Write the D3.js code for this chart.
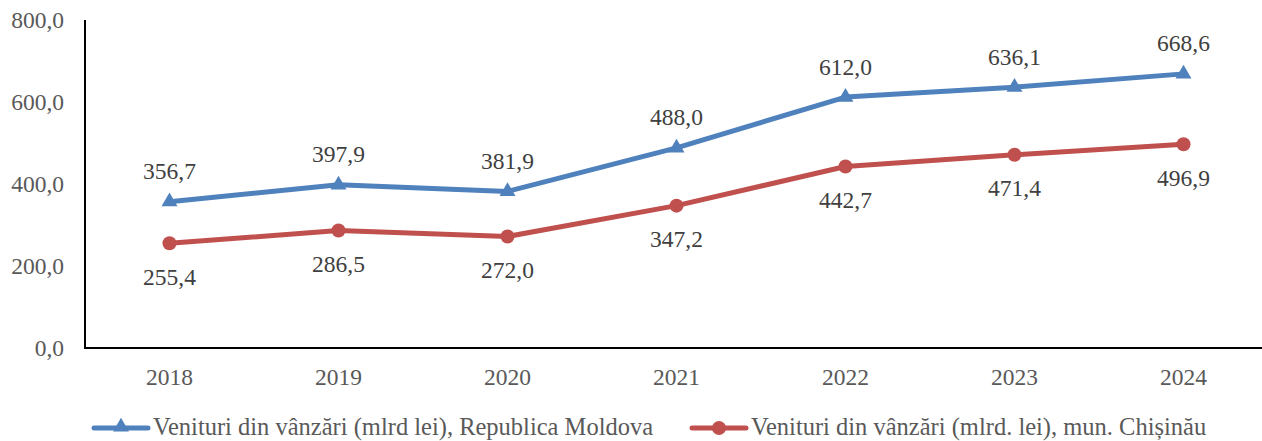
<!DOCTYPE html>
<html>
<head>
<meta charset="utf-8">
<script src="https://cdn.jsdelivr.net/npm/d3@7"></script>
<style>
  body { margin: 0; background: #fff; }
  text { font-family: "Liberation Serif", "Times New Roman", serif; }
</style>
</head>
<body>
<script>
const years = ['2018', '2019', '2020', '2021', '2022', '2023', '2024'];
const moldova = [356.7, 397.9, 381.9, 488.0, 612.0, 636.1, 668.6];
const chisinau = [255.4, 286.5, 272.0, 347.2, 442.7, 471.4, 496.9];
const yTicks = [0, 200, 400, 600, 800];
const seriesNames = [
  'Venituri din vânzări (mlrd lei), Republica Moldova',
  'Venituri din vânzări (mlrd. lei), mun. Chișinău'
];

const w = 1262;
const h = 441;
const mLeft = 85, mTop = 20, mBottom = 348, mRight = 1268;
const fmt = (v) => v.toFixed(1).replace('.', ',');

const svg = d3.select('body').append('svg').attr('width', w).attr('height', h);

const x = d3.scaleBand().domain(years).range([mLeft, mRight]);
const y = d3.scaleLinear().domain([0, 800]).range([mBottom, mTop]);
const cx = (d) => x(d) + x.bandwidth() / 2;

// y axis labels
svg.selectAll('.ylab')
  .data(yTicks)
  .enter()
  .append('text')
  .attr('x', 64)
  .attr('y', (d) => y(d) + 7.5)
  .attr('text-anchor', 'end')
  .attr('font-size', '23.5px')
  .attr('fill', '#595959')
  .text(fmt);

// axes lines
svg.append('line')
  .attr('x1', mLeft).attr('x2', mLeft)
  .attr('y1', mTop).attr('y2', mBottom)
  .attr('stroke', '#000').attr('stroke-width', 2);
svg.append('line')
  .attr('x1', mLeft - 1).attr('x2', w)
  .attr('y1', mBottom).attr('y2', mBottom)
  .attr('stroke', '#000').attr('stroke-width', 2);

// x labels
svg.selectAll('.xlab')
  .data(years)
  .enter()
  .append('text')
  .attr('x', cx)
  .attr('y', 385)
  .attr('text-anchor', 'middle')
  .attr('font-size', '23.5px')
  .attr('fill', '#595959')
  .text((d) => d);

const line = d3.line().x((d, i) => cx(years[i])).y((d) => y(d));
const blue = '#4F81BD';
const red = '#C0504D';
const tri = d3.symbol().type(d3.symbolTriangle).size(110);

svg.append('path').datum(moldova)
  .attr('d', line).attr('fill', 'none')
  .attr('stroke', blue).attr('stroke-width', 5).attr('stroke-linejoin', 'round');
svg.selectAll('.m1').data(moldova).enter().append('path')
  .attr('d', tri)
  .attr('transform', (d, i) => `translate(${cx(years[i])},${y(d)})`)
  .attr('fill', blue);

svg.append('path').datum(chisinau)
  .attr('d', line).attr('fill', 'none')
  .attr('stroke', red).attr('stroke-width', 5).attr('stroke-linejoin', 'round');
svg.selectAll('.m2').data(chisinau).enter().append('circle')
  .attr('cx', (d, i) => cx(years[i]))
  .attr('cy', (d) => y(d))
  .attr('r', 7)
  .attr('fill', red);

// data labels
svg.selectAll('.l1').data(moldova).enter().append('text')
  .attr('x', (d, i) => cx(years[i]))
  .attr('y', (d) => y(d) - 22.5)
  .attr('text-anchor', 'middle')
  .attr('font-size', '23.5px')
  .attr('fill', '#404040')
  .text(fmt);
svg.selectAll('.l2').data(chisinau).enter().append('text')
  .attr('x', (d, i) => cx(years[i]))
  .attr('y', (d) => y(d) + 41.5)
  .attr('text-anchor', 'middle')
  .attr('font-size', '23.5px')
  .attr('fill', '#404040')
  .text(fmt);

// legend
const legend = [
  { name: seriesNames[0], color: blue, x0: 94, marker: 'tri' },
  { name: seriesNames[1], color: red, x0: 692, marker: 'circle' }
];
const ly = 428;
legend.forEach((l) => {
  svg.append('line')
    .attr('x1', l.x0).attr('x2', l.x0 + 54)
    .attr('y1', ly).attr('y2', ly)
    .attr('stroke', l.color).attr('stroke-width', 5).attr('stroke-linecap', 'round');
  if (l.marker === 'tri') {
    svg.append('path').attr('d', tri)
      .attr('transform', `translate(${l.x0 + 27},${ly - 1})`)
      .attr('fill', l.color);
  } else {
    svg.append('circle').attr('cx', l.x0 + 27).attr('cy', ly).attr('r', 7)
      .attr('fill', l.color);
  }
  svg.append('text')
    .attr('x', l.x0 + 59)
    .attr('y', ly + 7)
    .attr('font-size', '24.5px')
    .attr('fill', '#595959')
    .text(l.name);
});
</script>
</body>
</html>
